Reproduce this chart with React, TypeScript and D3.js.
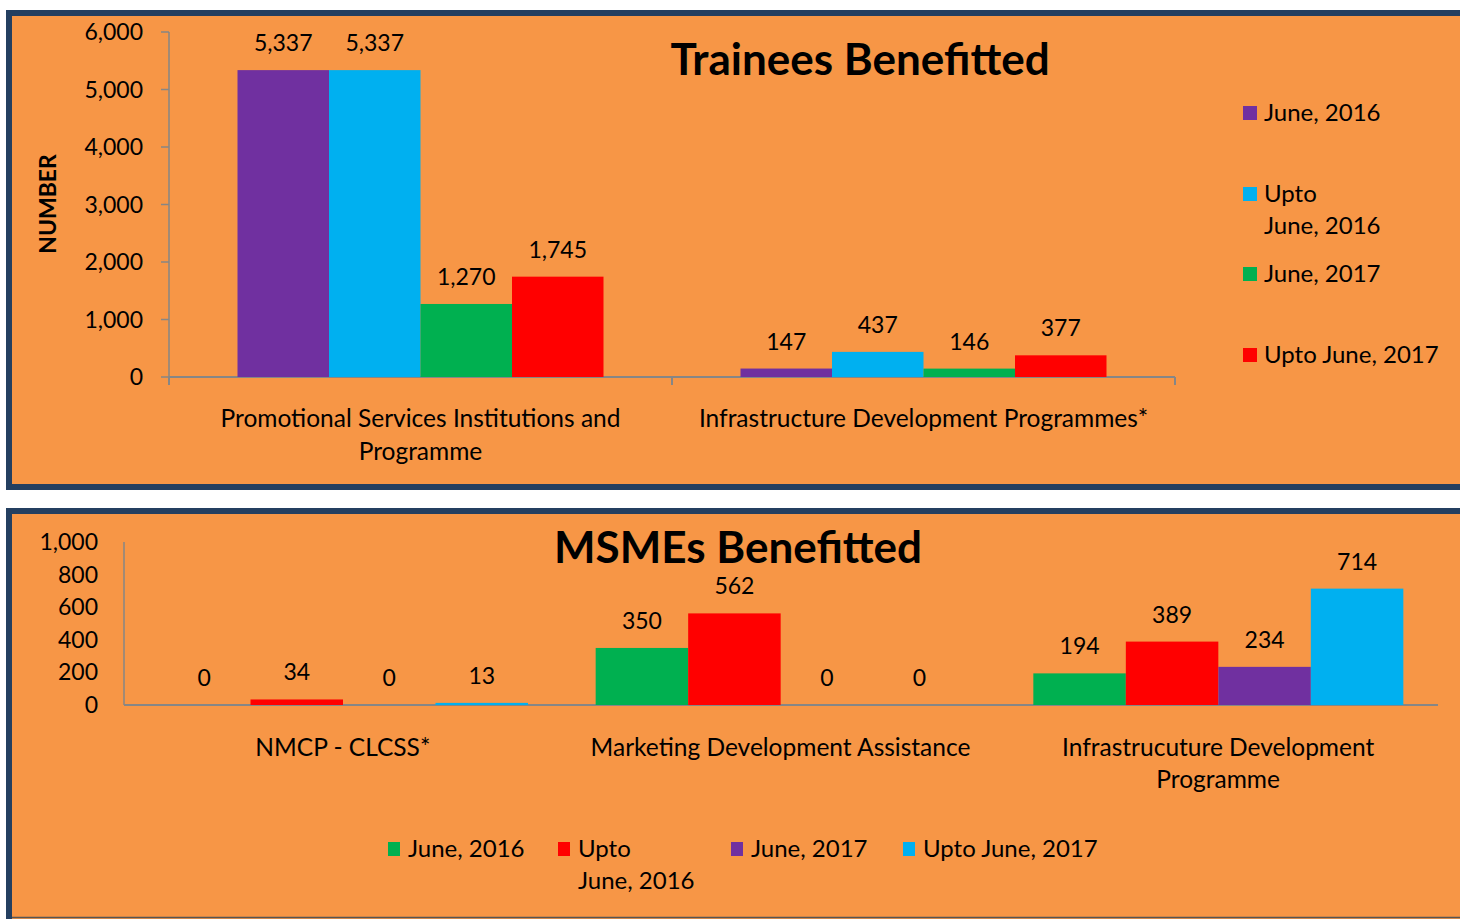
import React from 'react';
import * as d3 from 'd3';

// Trainees Benefitted
const trainCategories = [
  ['Promotional Services Institutions and', 'Programme'],
  ['Infrastructure Development Programmes*'],
];
const trainSeries = ['June, 2016', 'Upto June, 2016', 'June, 2017', 'Upto June, 2017'];
const trainLegend = [['June, 2016'], ['Upto', 'June, 2016'], ['June, 2017'], ['Upto June, 2017']];
const trainValues = [
  [5337, 147],
  [5337, 437],
  [1270, 146],
  [1745, 377],
];
const trainColors = ['#7030A0', '#00B0F0', '#00B050', '#FF0000'];
const trainTicks = [0, 1000, 2000, 3000, 4000, 5000, 6000];

// MSMEs Benefitted
const msmeCategories = [
  ['NMCP - CLCSS*'],
  ['Marketing Development Assistance'],
  ['Infrastrucuture Development', 'Programme'],
];
const msmeSeries = ['June, 2016', 'Upto June, 2016', 'June, 2017', 'Upto June, 2017'];
const msmeLegend = [['June, 2016'], ['Upto', 'June, 2016'], ['June, 2017'], ['Upto June, 2017']];
const msmeValues = [
  [0, 350, 194],
  [34, 562, 389],
  [0, 0, 234],
  [13, 0, 714],
];
const msmeColors = ['#00B050', '#FF0000', '#7030A0', '#00B0F0'];
const msmeTicks = [0, 200, 400, 600, 800, 1000];

const FONT = 'Lato, "Open Sans", sans-serif';
const BG = '#F79646';
const BORDER = '#243F60';
const AXIS = '#868686';
const fmt = d3.format(',');

const App = () => {
  // top chart scales
  const tx0 = d3.scaleBand<number>().domain(d3.range(trainCategories.length)).range([169, 1175]);
  const tx1 = d3.scaleBand<number>().domain(d3.range(trainSeries.length)).range([68.5, 434.5]);
  const ty = d3.scaleLinear().domain([0, 6000]).range([377, 32]);

  // bottom chart scales
  const bx0 = d3.scaleBand<number>().domain(d3.range(msmeCategories.length)).range([124, 1437]);
  const bx1 = d3.scaleBand<number>().domain(d3.range(msmeSeries.length)).range([34, 404]);
  const by = d3.scaleLinear().domain([0, 1000]).range([705, 542]);

  const legendTopY = [113, 194, 274, 355];
  const legendBotX = [388, 558, 731, 903];

  return (
    <svg
      width={1460}
      height={919}
      style={{ position: 'absolute', left: 0, top: 0, fontFamily: FONT }}
    >
      <rect x={0} y={0} width={1460} height={919} fill="#fff" />

      {/* top panel */}
      <rect x={9} y={13} width={1470} height={474} fill={BG} stroke={BORDER} strokeWidth={6} />
      <text x={860} y={75} textAnchor="middle" fontSize={44} fontWeight="bold">
        Trainees Benefitted
      </text>
      <text
        transform="translate(56,204) rotate(-90)"
        textAnchor="middle"
        fontSize={23}
        fontWeight="bold"
      >
        NUMBER
      </text>

      {/* top y axis */}
      <line x1={169} x2={169} y1={ty(6000)} y2={ty(0)} stroke={AXIS} strokeWidth={1.5} />
      {trainTicks.map(t => (
        <g key={t}>
          <line x1={161} x2={169} y1={ty(t)} y2={ty(t)} stroke={AXIS} strokeWidth={1.5} />
          <text x={143} y={ty(t)} dy="0.35em" textAnchor="end" fontSize={23}>
            {fmt(t)}
          </text>
        </g>
      ))}

      {/* top x axis */}
      <line x1={169} x2={1175} y1={ty(0)} y2={ty(0)} stroke={AXIS} strokeWidth={2} />
      {[169, ...trainCategories.map((_, i) => (tx0(i) as number) + tx0.bandwidth())].map(x => (
        <line key={x} x1={x} x2={x} y1={ty(0)} y2={ty(0) + 8} stroke={AXIS} strokeWidth={2} />
      ))}

      {trainCategories.map((lines, ci) => (
        <g key={ci}>
          {trainSeries.map((_, si) => {
            const v = trainValues[si][ci];
            const x = (tx0(ci) as number) + (tx1(si) as number);
            return (
              <g key={si}>
                <rect x={x} y={ty(v)} width={tx1.bandwidth()} height={ty(0) - ty(v)} fill={trainColors[si]} />
                <text x={x + tx1.bandwidth() / 2} y={ty(v) - 19} textAnchor="middle" fontSize={23}>
                  {fmt(v)}
                </text>
              </g>
            );
          })}
          {lines.map((l, li) => (
            <text
              key={li}
              x={(tx0(ci) as number) + tx0.bandwidth() / 2}
              y={427 + li * 33}
              textAnchor="middle"
              fontSize={24.5}
            >
              {l}
            </text>
          ))}
        </g>
      ))}

      {/* top legend */}
      {trainLegend.map((lines, i) => (
        <g key={i}>
          <rect x={1243} y={legendTopY[i] - 7} width={14} height={14} fill={trainColors[i]} />
          {lines.map((l, li) => (
            <text key={li} x={1264} y={legendTopY[i] + li * 32} dy="0.35em" fontSize={24}>
              {l}
            </text>
          ))}
        </g>
      ))}

      {/* bottom panel */}
      <rect x={9} y={511} width={1470} height={420} fill={BG} stroke={BORDER} strokeWidth={6} />
      <line x1={12} x2={1460} y1={917.5} y2={917.5} stroke="#555" strokeWidth={1.5} />
      <text x={738} y={563} textAnchor="middle" fontSize={44} fontWeight="bold">
        MSMEs Benefitted
      </text>

      <line x1={124} x2={124} y1={by(1000)} y2={by(0)} stroke={AXIS} strokeWidth={1.5} />
      {msmeTicks.map(t => (
        <text key={t} x={98} y={by(t)} dy="0.35em" textAnchor="end" fontSize={23}>
          {fmt(t)}
        </text>
      ))}
      <line x1={124} x2={1438} y1={by(0)} y2={by(0)} stroke={AXIS} strokeWidth={2} />

      {msmeCategories.map((lines, ci) => (
        <g key={ci}>
          {msmeSeries.map((_, si) => {
            const v = msmeValues[si][ci];
            const x = (bx0(ci) as number) + (bx1(si) as number);
            return (
              <g key={si}>
                <rect x={x} y={by(v)} width={bx1.bandwidth()} height={by(0) - by(v)} fill={msmeColors[si]} />
                <text x={x + bx1.bandwidth() / 2} y={by(v) - 19} textAnchor="middle" fontSize={23}>
                  {fmt(v)}
                </text>
              </g>
            );
          })}
          {lines.map((l, li) => (
            <text
              key={li}
              x={(bx0(ci) as number) + bx0.bandwidth() / 2}
              y={756 + li * 32}
              textAnchor="middle"
              fontSize={24.5}
            >
              {l}
            </text>
          ))}
        </g>
      ))}

      {/* bottom legend */}
      {msmeLegend.map((lines, i) => (
        <g key={i}>
          <rect x={legendBotX[i]} y={842} width={12} height={14} fill={msmeColors[i]} />
          {lines.map((l, li) => (
            <text key={li} x={legendBotX[i] + 20} y={849 + li * 32} dy="0.35em" fontSize={24}>
              {l}
            </text>
          ))}
        </g>
      ))}
    </svg>
  );
};

export default App;
